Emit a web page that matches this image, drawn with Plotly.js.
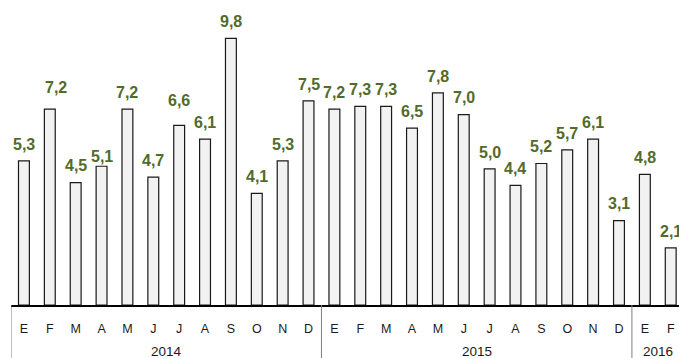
<!DOCTYPE html>
<html>
<head>
<meta charset="utf-8">
<script src="https://cdn.plot.ly/plotly-3.0.1.min.js"></script>
<style>html,body{margin:0;padding:0;background:#fff;}#chart{width:679px;height:358px;}</style>
</head>
<body>
<div id="chart"></div>
<script>
var years = ["2014","2014","2014","2014","2014","2014","2014","2014","2014","2014","2014","2014",
             "2015","2015","2015","2015","2015","2015","2015","2015","2015","2015","2015","2015",
             "2016","2016"];
var months = ["E","F","M","A","M","J","J","A","S","O","N","D",
              "E","F","M","A","M","J","J","A","S","O","N","D",
              "E","F"];
var values = [5.3,7.2,4.5,5.1,7.2,4.7,6.6,6.1,9.8,4.1,5.3,7.5,
              7.2,7.3,7.3,6.5,7.8,7.0,5.0,4.4,5.2,5.7,6.1,3.1,
              4.8,2.1];

// label nudges in pixels (style only)
var labelNudge = {1:{dx:6,dy:5}, 3:{dx:0,dy:-7}, 6:{dx:0,dy:8}};
var FONT = 'Arial, "Liberation Sans", sans-serif';

var idx = values.map(function(v,i){ return i; });

var annotations = values.map(function(v,i){
  var n = labelNudge[i] || {dx:0,dy:0};
  return {
    x: i, y: v, xref:'x', yref:'y',
    text: v.toFixed(1).replace('.', ','),
    showarrow:false, yanchor:'middle', xanchor:'center',
    yshift: 16.7 + n.dy, xshift: n.dx,
    font:{family:FONT, size:16, color:'#526b2a', weight:'bold'}
  };
});

// year groups from data
var groups = [];
years.forEach(function(y,i){
  if (!groups.length || groups[groups.length-1].year !== y) groups.push({year:y, start:i, end:i});
  else groups[groups.length-1].end = i;
});
var shapes = [];
groups.forEach(function(g){
  annotations.push({
    x:(g.start+g.end)/2, y:-0.1525, xref:'x', yref:'paper',
    text:g.year, showarrow:false, xanchor:'center', yanchor:'middle',
    font:{family:FONT, size:13.5, color:'#1a1a1a'}
  });
  shapes.push({type:'line', xref:'x', yref:'paper', x0:g.start-0.5, x1:g.start-0.5,
               y0:0, y1:-0.2, line:{color:'#7f7f7f', width:1}});
});

var trace = {
  type:'bar',
  x: idx,
  y: values,
  width: 0.42,
  marker:{color:'#f2f2f2', line:{color:'#1a1a1a', width:1.2}},
  hoverinfo:'none'
};

var layout = {
  width:679, height:358,
  margin:{l:11, r:0, t:0, b:53},
  paper_bgcolor:'#ffffff', plot_bgcolor:'#ffffff',
  showlegend:false,
  xaxis:{
    type:'linear',
    range:[-0.5, 25.32],
    tickmode:'array', tickvals: idx, ticktext: months,
    showline:true, linecolor:'#000000', linewidth:2,
    ticks:'', showgrid:false, zeroline:false,
    ticklabelstandoff:11,
    tickfont:{family:FONT, size:12.5, color:'#1a1a1a'}
  },
  yaxis:{
    range:[0, 11.21],
    visible:false, showgrid:false, zeroline:false
  },
  shapes: shapes,
  annotations: annotations
};

Plotly.newPlot('chart', [trace], layout, {displayModeBar:false, staticPlot:true});
</script>
</body>
</html>
